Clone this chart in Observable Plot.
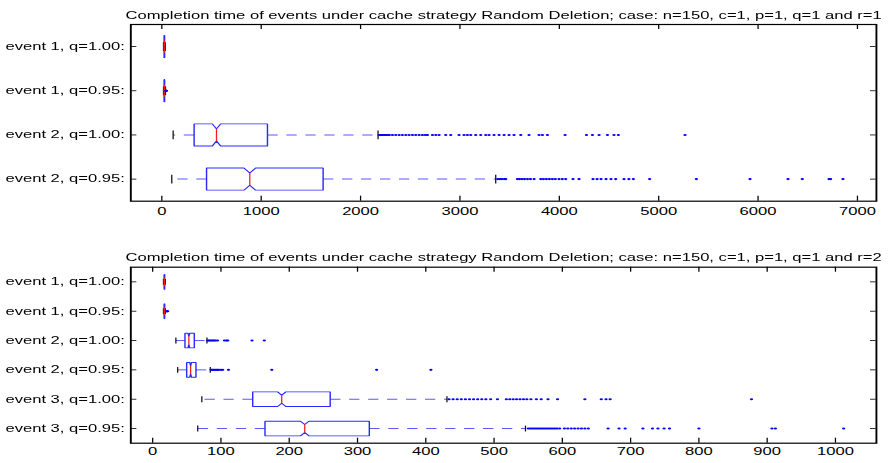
<!DOCTYPE html>
<html><head><meta charset="utf-8">
<script src="https://cdn.jsdelivr.net/npm/d3@7"></script>
<script src="https://cdn.jsdelivr.net/npm/@observablehq/plot@0.6"></script>
<style>
html,body{margin:0;padding:0;background:#fff;}
#stretch{width:564px;transform:scaleX(1.58);transform-origin:0 0;}
#stretch svg{display:block;}
</style></head><body><div id="stretch"></div>
<script>
// ---- top panel (r=1) ----
const topTitle = "Completion time of events under cache strategy Random Deletion; case: n=150, c=1, p=1, q=1 and r=1";
const topLabels = ["event 1, q=1.00:", "event 1, q=0.95:", "event 2, q=1.00:", "event 2, q=0.95:"];
const topLo = [17, 17, 114, 100];
const topQ1 = [23, 23, 325, 450];
const topMed = [25.5, 25.5, 550, 885];
const topQ3 = [28, 28, 1063, 1623];
const topHi = [35, 37, 2176, 3360];
const topNotch = [0.8, 0.8, 42, 59];
const topOutliers = [
  [],
  [40, 43, 46],
  [2186, 2200, 2212, 2225, 2240, 2256, 2272, 2290, 2321, 2354, 2388, 2421, 2455, 2488, 2522, 2555, 2589, 2622, 2650, 2673, 2723, 2757, 2790, 2857, 2907, 2991, 3041, 3075, 3109, 3159, 3209, 3260, 3293, 3343, 3394, 3444, 3494, 3544, 3612, 3695, 3796, 3830, 3880, 4058, 4273, 4333, 4400, 4484, 4550, 4594, 5265],
  [3380, 3400, 3420, 3445, 3461, 3578, 3600, 3625, 3650, 3680, 3710, 3746, 3813, 3840, 3870, 3900, 3930, 3960, 3997, 4030, 4064, 4138, 4198, 4339, 4380, 4420, 4470, 4520, 4567, 4651, 4700, 4745, 4909, 5379, 5919, 6301, 6445, 6714, 6730, 6854]
];
const topTicks = [0, 1000, 2000, 3000, 4000, 5000, 6000, 7000];
const topDomain = [-312, 7191];

// ---- bottom panel (r=2) ----
const botTitle = "Completion time of events under cache strategy Random Deletion; case: n=150, c=1, p=1, q=1 and r=2";
const botLabels = ["event 1, q=1.00:", "event 1, q=0.95:", "event 2, q=1.00:", "event 2, q=0.95:", "event 3, q=1.00:", "event 3, q=0.95:"];
const botLo = [15.8, 15.8, 34, 36.6, 72, 66];
const botQ1 = [16.8, 16.8, 47.3, 49.8, 146.5, 164.5];
const botMed = [17.2, 17.2, 53, 55.6, 189, 222.7];
const botQ3 = [17.6, 17.6, 61, 63.4, 260, 317.3];
const botHi = [18.6, 18.6, 79.5, 84.4, 431, 546];
const botNotch = [0.3, 0.3, 1.2, 1.2, 6, 6.2];
const botOutliers = [
  [],
  [19.8, 20.5, 21.3, 22],
  [80.5, 82, 84, 86, 88, 90, 92, 95, 105, 108, 110, 145.5, 163.5],
  [85.5, 87, 89, 91, 93, 95, 97, 100, 102.5, 111, 174.5, 328, 407.5],
  [434, 440, 446, 452, 458, 464, 470, 476, 482, 488, 495, 505, 518, 523, 528, 533, 538, 543, 548, 554, 562, 569, 579, 593, 633, 657, 664, 670, 877],
  [550, 553, 556, 559, 562, 565, 568, 571, 574, 577, 580, 583, 586, 589, 592, 596, 603, 608, 613, 618, 623, 628, 633, 638, 667, 683, 692, 718, 732, 740, 749, 757, 800, 907, 912, 1012]
];
const botTicks = [0, 100, 200, 300, 400, 500, 600, 700, 800, 900, 1000];
const botDomain = [-32, 1060];

// ---- styling ----
const W = 564, ML = 82.3, MR = 9.8;
const BOX = 0.25, WAIST = 0.55 * BOX, CAP = 0.1;
const BOXC = "#2a2aff", WHISK = "#5a5aff", CAPC = "#111", MEDC = "#ff1a1a", OUTC = "#0000ff";
const FONT = "'Liberation Sans', Arial, Helvetica, sans-serif";
const FS = 10.5;

function panel(o) {
  const n = o.labels.length;
  const rows = o.labels.map((l, k) => ({
    i: k + 1, lo: o.lo[k], q1: o.q1[k], med: o.med[k], q3: o.q3[k], hi: o.hi[k],
    nlo: o.med[k] - o.notch[k], nhi: o.med[k] + o.notch[k]
  }));
  const verts = rows.flatMap(r => [
    [r.q1, r.i - BOX], [r.nlo, r.i - BOX], [r.med, r.i - WAIST], [r.nhi, r.i - BOX], [r.q3, r.i - BOX],
    [r.q3, r.i + BOX], [r.nhi, r.i + BOX], [r.med, r.i + WAIST], [r.nlo, r.i + BOX], [r.q1, r.i + BOX], [r.q1, r.i - BOX]
  ].map(([x, y]) => ({id: r.i, x, y})));
  const pts = o.outliers.flatMap((arr, k) => arr.map(v => ({i: k + 1, v})));
  const idx = d3.range(1, n + 1);
  const fw = W - ML - MR, fh = o.height - o.mt - o.mb;
  return Plot.plot({
    width: W, height: o.height,
    marginLeft: ML, marginRight: MR, marginTop: o.mt, marginBottom: o.mb,
    style: {fontFamily: FONT, fontSize: FS + "px", background: "white", color: "black", overflow: "visible"},
    x: {domain: o.domain, label: null},
    y: {domain: [0.5, n + 0.5], reverse: true, label: null},
    marks: [
      Plot.link(rows, {x1: "q3", x2: "hi", y1: "i", y2: "i", stroke: WHISK, strokeWidth: 1, strokeDasharray: "6.5,5.5"}),
      Plot.link(rows, {x1: "q1", x2: "lo", y1: "i", y2: "i", stroke: WHISK, strokeWidth: 1, strokeDasharray: "6.5,5.5"}),
      Plot.link(rows, {x1: "hi", x2: "hi", y1: r => r.i - CAP, y2: r => r.i + CAP, stroke: CAPC, strokeWidth: 0.8}),
      Plot.link(rows, {x1: "lo", x2: "lo", y1: r => r.i - CAP, y2: r => r.i + CAP, stroke: CAPC, strokeWidth: 0.8}),
      Plot.line(verts, {x: "x", y: "y", z: "id", stroke: BOXC, strokeWidth: 0.9}),
      Plot.link(rows, {x1: "med", x2: "med", y1: r => r.i - WAIST, y2: r => r.i + WAIST, stroke: MEDC, strokeWidth: 0.8}),
      Plot.dot(pts, {x: "v", y: "i", r: 1.05, fill: OUTC, stroke: null}),
      Plot.frame({stroke: "black", strokeWidth: 1.2}),
      Plot.tickX(o.ticks, {x: d => d, insetTop: fh - 5, stroke: "black", strokeWidth: 0.8}),
      Plot.tickX(o.ticks, {x: d => d, insetBottom: fh - 5, stroke: "black", strokeWidth: 0.8}),
      Plot.tickY(idx, {y: d => d, insetRight: fw - 4, stroke: "black", strokeWidth: 0.8}),
      Plot.tickY(idx, {y: d => d, insetLeft: fw - 3.6, stroke: "black", strokeWidth: 0.8}),
      Plot.axisX({ticks: o.ticks, tickSize: 0, tickPadding: o.tickPad, tickFormat: d => String(d), fontSize: FS}),
      Plot.axisY({ticks: idx, tickSize: 0, tickPadding: 3.8, tickFormat: i => o.labels[i - 1], fontSize: FS}),
      Plot.text([o.title], {frameAnchor: "top", dy: o.titleDy, text: d => d, fontSize: FS, fill: "black"})
    ]
  });
}

const root = document.getElementById("stretch");
root.appendChild(panel({
  title: topTitle, labels: topLabels, lo: topLo, q1: topQ1, med: topMed, q3: topQ3, hi: topHi,
  notch: topNotch, outliers: topOutliers, ticks: topTicks, domain: topDomain,
  height: 232, mt: 24, mb: 31.3, tickPad: 6.5, titleDy: -12.6
}));
root.appendChild(panel({
  title: botTitle, labels: botLabels, lo: botLo, q1: botQ1, med: botMed, q3: botQ3, hi: botHi,
  notch: botNotch, outliers: botOutliers, ticks: botTicks, domain: botDomain,
  height: 231, mt: 34.7, mb: 20.3, tickPad: 4, titleDy: -13.4
}));
</script></body></html>
